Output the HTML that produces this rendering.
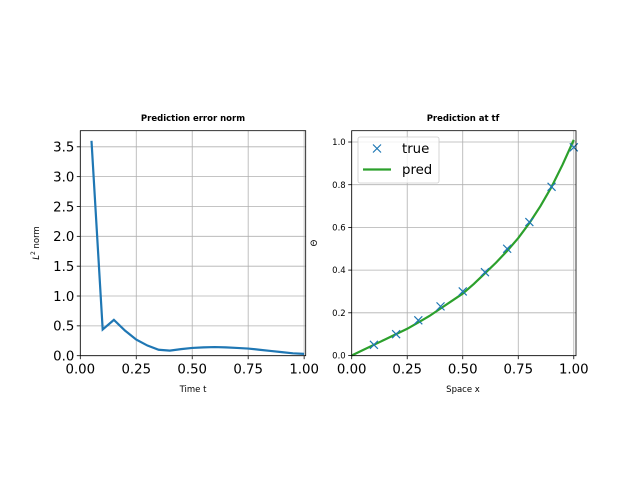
<!DOCTYPE html>
<html><head><meta charset="utf-8"><style>
body{margin:0;background:#fff;}
svg{display:block;font-family:"DejaVu Sans","Liberation Sans",sans-serif;}
</style></head><body>
<svg id="c" width="640" height="480"></svg>
<script>
const errT=[0.05,0.1,0.15,0.2,0.25,0.3,0.35,0.4,0.45,0.5,0.55,0.6,0.65,0.7,0.75,0.8,0.85,0.9,0.95,1.0];
const errV=[3.6,0.44,0.6,0.42,0.27,0.17,0.10,0.085,0.11,0.13,0.14,0.145,0.14,0.13,0.12,0.10,0.08,0.06,0.04,0.03];
const trueX=[0.1,0.2,0.3,0.4,0.5,0.6,0.7,0.8,0.9,1.0];
const trueV=[0.05,0.10,0.165,0.23,0.30,0.39,0.50,0.625,0.79,0.975];
const predX=[0,0.05,0.1,0.15,0.2,0.25,0.3,0.35,0.4,0.45,0.5,0.55,0.6,0.65,0.7,0.75,0.8,0.85,0.9,0.95,1.0];
const predV=[0,0.025,0.05,0.075,0.10,0.125,0.155,0.185,0.22,0.255,0.29,0.335,0.385,0.435,0.49,0.55,0.62,0.70,0.79,0.895,1.01];
const xTicks=[0,0.25,0.5,0.75,1.0];
const xTickLabels=["0.00","0.25","0.50","0.75","1.00"];
const lyTicks=[0,0.5,1,1.5,2,2.5,3,3.5];
const ryTicks=[0,0.2,0.4,0.6,0.8,1.0];
const NS="http://www.w3.org/2000/svg";
const svg=document.getElementById('c');
function el(t,a,p){const e=document.createElementNS(NS,t);for(const k in a)e.setAttribute(k,a[k]);(p||svg).appendChild(e);return e;}
function axes(L,R,T,B,xmax,ymin,ymax,name,yt,yfmt,yfs){
 const g=el('g',{});
 
 
 const sx=v=>L+v/xmax*(R-L), sy=v=>B-(v-ymin)/(ymax-ymin)*(B-T);
 xTicks.forEach((v,i)=>{const x=sx(v);
  el('line',{x1:x,x2:x,y1:T,y2:B,stroke:'#b0b0b0','stroke-width':0.8},g);
  el('line',{x1:x,x2:x,y1:B,y2:B+3.5,stroke:'#000','stroke-width':0.8},g);
  const t=el('text',{x:x,y:B+18,'text-anchor':'middle','font-size':13.3},g);t.textContent=xTickLabels[i];
  
  });
 yt.forEach(v=>{const y=sy(v);
  el('line',{x1:L,x2:R,y1:y,y2:y,stroke:'#b0b0b0','stroke-width':0.8},g);
  el('line',{x1:L-3.5,x2:L,y1:y,y2:y,stroke:'#000','stroke-width':0.8},g);
  const t=el('text',{x:L-6,y:y+yfs*0.36,'text-anchor':'end','font-size':yfs},g);t.textContent=yfmt(v);
  
  });
 return {g,sx,sy,frame:()=>el('rect',{x:L,y:T,width:R-L,height:B-T,fill:'none',stroke:'#000','stroke-width':0.8},g)};
}
// left
const A=axes(80.3,305.7,130.7,355.7,1.007,0,3.77,'error-norm-axes',lyTicks,v=>v.toFixed(1),13.3);
const lp=el('polyline',{points:errT.map((t,i)=>A.sx(t)+','+A.sy(errV[i])).join(' '),fill:'none',stroke:'#1f77b4','stroke-width':2.2},A.g);


A.frame();
let t=el('text',{x:193,y:121,'text-anchor':'middle','font-size':8.5,'font-weight':'bold'});t.textContent='Prediction error norm';

t=el('text',{x:193,y:392,'text-anchor':'middle','font-size':8.5});t.textContent='Time t';

t=el('text',{x:0,y:0,'text-anchor':'middle','font-size':8.5,transform:'translate(39,243) rotate(-90)'});t.innerHTML='<tspan font-style="italic">L</tspan><tspan font-size="6" dy="-4">2</tspan><tspan dy="4"> norm</tspan>';

// right
const B=axes(351.7,576,130.7,355.7,1.01,-0.001,1.053,'prediction-axes',ryTicks,v=>v.toFixed(1),8.5);
const pp=el('polyline',{points:predX.map((x,i)=>B.sx(x)+','+B.sy(predV[i])).join(' '),fill:'none',stroke:'#2ca02c','stroke-width':2.2},B.g);


trueX.forEach((x,i)=>{const cx=B.sx(x),cy=B.sy(trueV[i]);
 const m=el('path',{d:`M${cx-4},${cy-4}L${cx+4},${cy+4}M${cx-4},${cy+4}L${cx+4},${cy-4}`,stroke:'#1f77b4','stroke-width':1.2},B.g);
 
 });
B.frame();
const lg=el('g',{});


el('rect',{x:358,y:137,width:81,height:46,rx:2,fill:'#fff','fill-opacity':0.8,stroke:'#ccc','stroke-width':0.8},lg);
el('path',{d:'M373,144.5L381,152.5M373,152.5L381,144.5',stroke:'#1f77b4','stroke-width':1.2},lg);
t=el('text',{x:402,y:153,'font-size':13.3},lg);t.textContent='true';
el('line',{x1:363,x2:391,y1:169.5,y2:169.5,stroke:'#2ca02c','stroke-width':2.2},lg);
t=el('text',{x:402,y:174,'font-size':13.3},lg);t.textContent='pred';
t=el('text',{x:463,y:121,'text-anchor':'middle','font-size':8.5,'font-weight':'bold'});t.textContent='Prediction at tf';

t=el('text',{x:463,y:392,'text-anchor':'middle','font-size':8.5});t.textContent='Space x';

t=el('text',{x:0,y:0,'text-anchor':'middle','font-size':8.5,transform:'translate(317,243) rotate(-90)'});t.textContent='Θ';

</script>
</body></html>
